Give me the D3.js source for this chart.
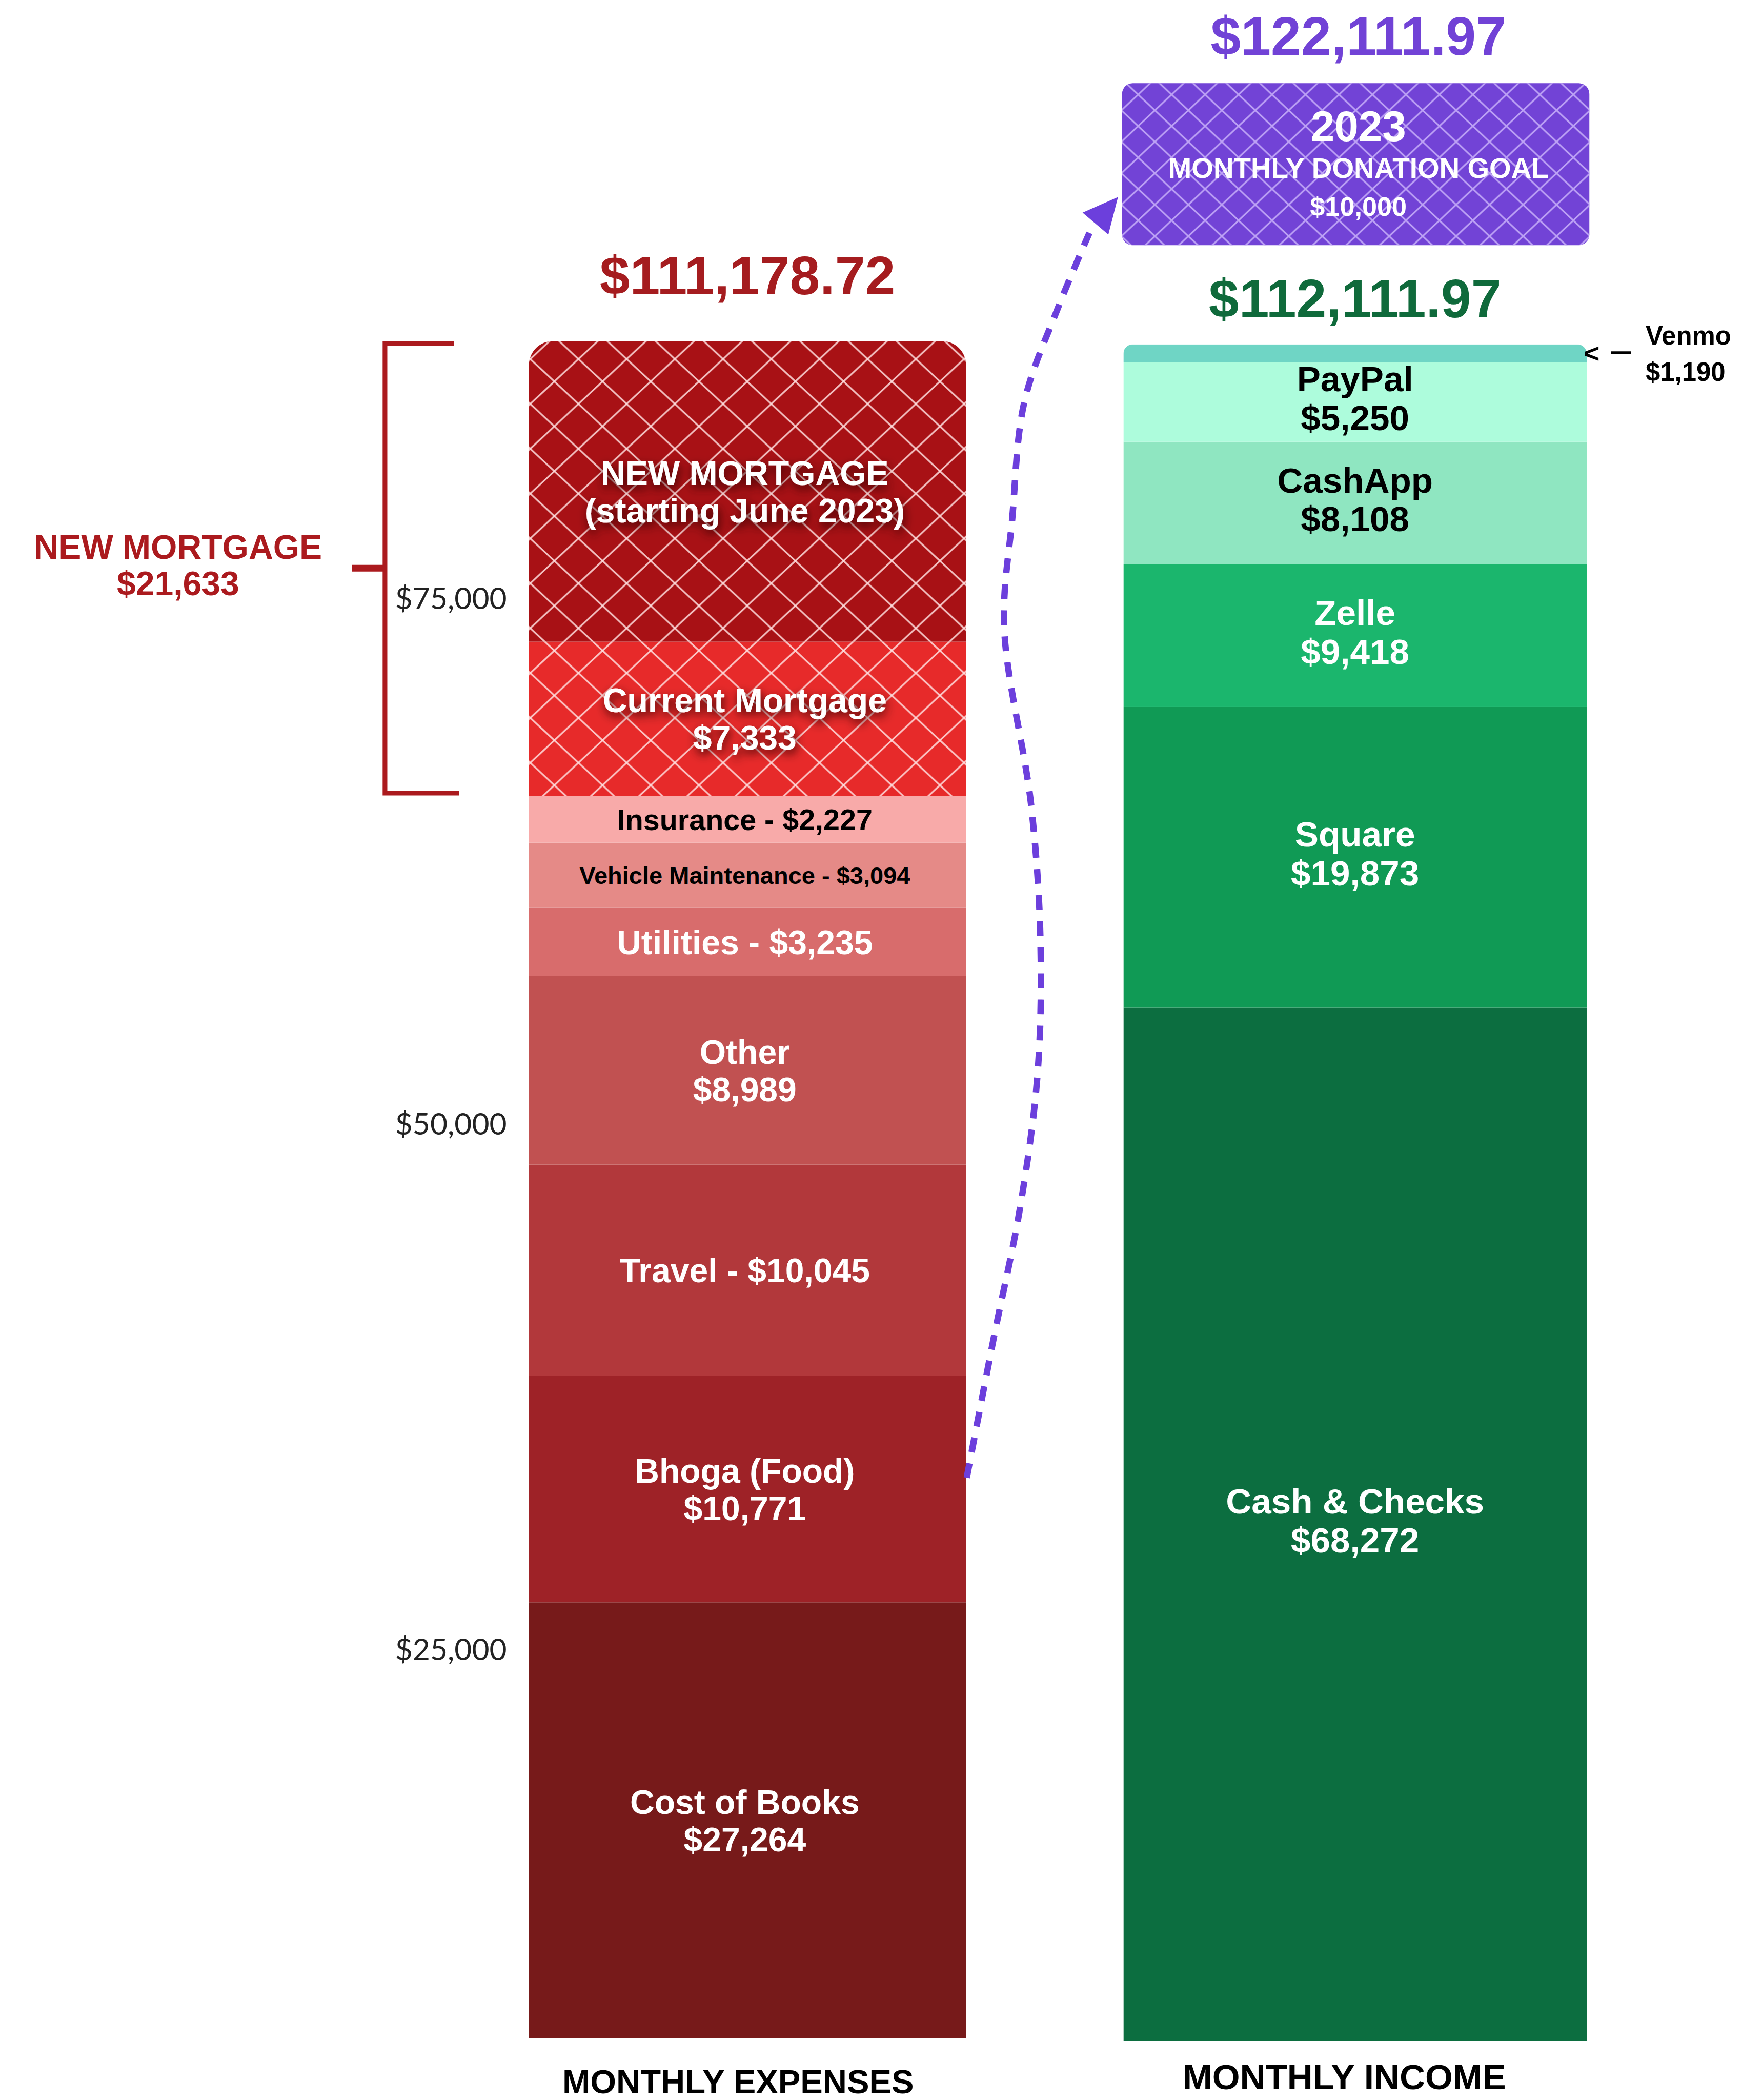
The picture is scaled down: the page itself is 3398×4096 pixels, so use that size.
<!DOCTYPE html>
<html>
<head>
<meta charset="utf-8">
<script src="https://cdn.jsdelivr.net/npm/d3@7"></script>
<style>
  html, body { margin: 0; padding: 0; background: #fff; }
  svg { display: block; }
</style>
</head>
<body>
<svg id="chart"></svg>
<script>
// ---- data ----
// expenses, bottom of the bar to the top
const expenseNames = ["Cost of Books", "Bhoga (Food)", "Travel", "Other", "Utilities",
  "Vehicle Maintenance", "Insurance", "Current Mortgage", "NEW MORTGAGE"];
const expenseValues = [27264, 10771, 10045, 8989, 3235, 3094, 2227, 7333, 14300];
const expenseLabels = [
  ["Cost of Books", "$27,264"], ["Bhoga (Food)", "$10,771"], ["Travel - $10,045"],
  ["Other", "$8,989"], ["Utilities - $3,235"], ["Vehicle Maintenance - $3,094"],
  ["Insurance - $2,227"], ["Current Mortgage", "$7,333"], ["NEW MORTGAGE", "(starting June 2023)"]
];
const hatchedExpenses = ["Current Mortgage", "NEW MORTGAGE"];

// income, bottom of the bar to the top
const incomeNames = ["Cash & Checks", "Square", "Zelle", "CashApp", "PayPal", "Venmo"];
const incomeValues = [68272, 19873, 9418, 8108, 5250, 1190];

const expenseTicks = [25000, 50000, 75000];
const expenseTotalText = "$111,178.72";
const incomeTotalText = "$112,111.97";
const goalTotalText = "$122,111.97";
const goalLines = ["2023", "MONTHLY DONATION GOAL", "$10,000"];
const newMortgageText = ["NEW MORTGAGE", "$21,633"];

// ---- styles ----
const expenseColors = ["#771a1a", "#9e2227", "#b2383b", "#c15151", "#d86c6c",
  "#e58a87", "#f8aaa9", "#e72a2a", "#a81115"];
const expenseText = ["#fff", "#fff", "#fff", "#fff", "#fff", "#000", "#000", "#fff", "#fff"];
const expenseFont = [25.3, 25.3, 25.3, 25.3, 25.3, 18, 22, 25.3, 25.3];
const incomeColors = ["#0c6e40", "#109a55", "#1bb66d", "#8fe6c1", "#adfcdc", "#6fd5c5"];
const incomeText = ["#fff", "#fff", "#fff", "#000", "#000", "#000"];

const FONT = "'Liberation Sans', Arial, Helvetica, sans-serif";
const W = 1301, H = 1568;
const fmt = d3.format(",");

const svg = d3.select("#chart")
  .attr("width", 3398).attr("height", 4096)
  .attr("viewBox", `0 0 ${W} ${H}`);
const defs = svg.append("defs");

// bar layout
const exp = { x0: 395, x1: 721.5, bottom: 1522, r: 18 };
const inc = { x0: 839, x1: 1185, r: 7 };
const box = { x: 838, y: 62, w: 349, h: 121, r: 8 };

const expTotal = d3.sum(expenseValues);
const incTotal = d3.sum(incomeValues);

// expense scale set by its tick labels (the bar is cropped at the bottom)
const yExp = d3.scaleLinear().domain([25000, 75000]).range([1232, 447]);
const yInc = d3.scaleLinear().domain([0, incTotal]).range([1524, 257]);

function stackOf(names, values) {
  const row = {};
  names.forEach((n, i) => row[n] = values[i]);
  return d3.stack().keys(names)([row]).map((s, i) => ({ key: s.key, i: i, y0: s[0][0], y1: s[0][1] }));
}
const expStack = stackOf(expenseNames, expenseValues);
const incStack = stackOf(incomeNames, incomeValues);

function topRounded(x, y, w, h, r) {
  return `M${x},${y + h}V${y + r}A${r},${r} 0 0 1 ${x + r},${y}H${x + w - r}` +
    `A${r},${r} 0 0 1 ${x + w},${y + r}V${y + h}Z`;
}

// hatch patterns (diamond lattice)
function hatch(id, w, h, color, sw, op) {
  const p = defs.append("pattern").attr("id", id)
    .attr("patternUnits", "userSpaceOnUse").attr("width", w).attr("height", h);
  const segs = [[-w, -h, 2 * w, 2 * h], [2 * w, -h, -w, 2 * h], [-w, h, w, -h],
    [0, 2 * h, 2 * w, 0], [0, -h, 2 * w, h], [-w, 0, w, 2 * h]];
  p.selectAll("line").data(segs).join("line")
    .attr("x1", d => d[0]).attr("y1", d => d[1]).attr("x2", d => d[2]).attr("y2", d => d[3])
    .attr("stroke", color).attr("stroke-width", sw).attr("stroke-opacity", op);
}
hatch("hatchRed", 36, 33.5, "#ffe0e0", 1.3, 0.85);
hatch("hatchPurple", 25, 23.5, "#bda2f5", 1.2, 1);

defs.append("filter").attr("id", "shadow")
  .attr("x", "-20%").attr("y", "-60%").attr("width", "140%").attr("height", "220%")
  .append("feDropShadow").attr("dx", 1).attr("dy", 3).attr("stdDeviation", 3.5)
  .attr("flood-color", "#300000").attr("flood-opacity", 0.9);

defs.append("clipPath").attr("id", "expClip").append("path")
  .attr("d", topRounded(exp.x0, yExp(expTotal), exp.x1 - exp.x0, exp.bottom - yExp(expTotal), exp.r));
defs.append("clipPath").attr("id", "incClip").append("path")
  .attr("d", topRounded(inc.x0, yInc(incTotal), inc.x1 - inc.x0, yInc(0) - yInc(incTotal), inc.r));

// text helper: centred lines around cy
function lines(g, x, cy, arr, size, color, lh, extra) {
  const t = g.append("text").attr("x", x).attr("text-anchor", "middle")
    .attr("font-family", FONT).attr("font-weight", "bold")
    .attr("font-size", size).attr("fill", color);
  if (extra) extra(t);
  arr.forEach((s, k) => {
    t.append("tspan").attr("x", x)
      .attr("y", cy + (k - (arr.length - 1) / 2) * lh + 0.36 * size)
      .text(s);
  });
  return t;
}

// ---- expense bar ----
const expG = svg.append("g").attr("clip-path", "url(#expClip)");
expG.selectAll("rect.seg").data(expStack).join("rect").attr("class", "seg")
  .attr("x", exp.x0).attr("width", exp.x1 - exp.x0)
  .attr("y", d => yExp(d.y1)).attr("height", d => yExp(d.y0) - yExp(d.y1))
  .attr("fill", d => expenseColors[d.i]);
expG.selectAll("rect.hatch").data(expStack.filter(d => hatchedExpenses.includes(d.key)))
  .join("rect").attr("class", "hatch")
  .attr("x", exp.x0).attr("width", exp.x1 - exp.x0)
  .attr("y", d => yExp(d.y1)).attr("height", d => yExp(d.y0) - yExp(d.y1))
  .attr("fill", "url(#hatchRed)");

const expCx = (exp.x0 + exp.x1) / 2;
expStack.forEach(d => {
  const top = Math.max(yExp(d.y1), yExp(expTotal));
  const bot = Math.min(yExp(d.y0), exp.bottom);
  const shadow = hatchedExpenses.includes(d.key);
  lines(svg, expCx - 2, (top + bot) / 2, expenseLabels[d.i], expenseFont[d.i], expenseText[d.i], 28,
    shadow ? t => t.attr("filter", "url(#shadow)") : null);
});

// ---- income bar ----
const incG = svg.append("g").attr("clip-path", "url(#incClip)");
incG.selectAll("rect").data(incStack).join("rect")
  .attr("x", inc.x0).attr("width", inc.x1 - inc.x0)
  .attr("y", d => yInc(d.y1)).attr("height", d => yInc(d.y0) - yInc(d.y1))
  .attr("fill", d => incomeColors[d.i]);

const incCx = (inc.x0 + inc.x1) / 2;
incStack.filter(d => d.key !== "Venmo").forEach(d => {
  lines(svg, incCx, (yInc(d.y0) + yInc(d.y1)) / 2 - 3, [d.key, "$" + fmt(incomeValues[d.i])],
    26.5, incomeText[d.i], 29);
});

// Venmo callout
const venmo = incStack.find(d => d.key === "Venmo");
const vy = (yInc(venmo.y0) + yInc(venmo.y1)) / 2;
svg.append("text").attr("x", inc.x1 - 2).attr("y", vy + 7)
  .attr("font-family", FONT).attr("font-weight", "bold").attr("font-size", 20).text("<");
svg.append("line").attr("x1", inc.x1 + 18).attr("x2", inc.x1 + 33)
  .attr("y1", vy - 0.5).attr("y2", vy - 0.5).attr("stroke", "#000").attr("stroke-width", 2);
const vt = svg.append("text").attr("font-family", FONT).attr("font-weight", "bold")
  .attr("font-size", 19.5).attr("fill", "#000");
vt.append("tspan").attr("x", inc.x1 + 44).attr("y", vy - 6.5).text(venmo.key);
vt.append("tspan").attr("x", inc.x1 + 44).attr("y", vy + 20.5).text("$" + fmt(incomeValues[venmo.i]));

// ---- y axis (expense side) ----
const axis = svg.append("g").attr("transform", "translate(381.5,0)")
  .call(d3.axisLeft(yExp).tickValues(expenseTicks)
    .tickFormat(d => "$" + fmt(d)).tickSize(0).tickPadding(3));
axis.select(".domain").remove();
axis.selectAll("text").attr("font-family", "Lato, 'Open Sans', sans-serif")
  .attr("font-size", 22.5).attr("fill", "#222");

// ---- new mortgage bracket ----
const mortgageTotal = d3.sum(expStack.filter(d => hatchedExpenses.includes(d.key)), d => d.y1 - d.y0);
const bTop = yExp(expTotal) + 1.7;
const bBot = yExp(expTotal - mortgageTotal) - 2;
const bMid = (bTop + bBot) / 2;
const bx = 287.5, red = "#ab1a1e";
svg.append("path")
  .attr("d", `M339,${bTop}H${bx}V${bBot}H343`)
  .attr("fill", "none").attr("stroke", red).attr("stroke-width", 3.5);
svg.append("line").attr("x1", 263).attr("x2", bx).attr("y1", bMid).attr("y2", bMid)
  .attr("stroke", red).attr("stroke-width", 5);
lines(svg, 133, bMid - 2.6, newMortgageText, 25.3, red, 27);

// ---- totals ----
function title(x, y, s, color) {
  svg.append("text").attr("x", x).attr("y", y).attr("text-anchor", "middle")
    .attr("font-family", FONT).attr("font-weight", "bold").attr("font-size", 40.5)
    .attr("fill", color).text(s);
}
title(expCx, yExp(expTotal) - 35, expenseTotalText, "#a51c1f");
title(incCx, yInc(incTotal) - 20, incomeTotalText, "#0f6a3b");
title(box.x + box.w / 2 + 2, 41, goalTotalText, "#7142d6");

// ---- donation goal box ----
svg.append("rect").attr("x", box.x).attr("y", box.y).attr("width", box.w).attr("height", box.h)
  .attr("rx", box.r).attr("fill", "#7243d6");
svg.append("rect").attr("x", box.x).attr("y", box.y).attr("width", box.w).attr("height", box.h)
  .attr("rx", box.r).attr("fill", "url(#hatchPurple)");
const bcx = box.x + box.w / 2 + 2;
const gt = svg.append("text").attr("text-anchor", "middle").attr("font-family", FONT)
  .attr("font-weight", "bold").attr("fill", "#fff");
gt.append("tspan").attr("x", bcx).attr("y", 105).attr("font-size", 32).text(goalLines[0]);
gt.append("tspan").attr("x", bcx).attr("y", 132.7).attr("font-size", 21).text(goalLines[1]);
gt.append("tspan").attr("x", bcx).attr("y", 161).attr("font-size", 20).text(goalLines[2]);

// ---- dashed arrow from expenses to the goal ----
const bhoga = expStack.find(d => d.key === "Bhoga (Food)");
const S = [exp.x1 + 0.5, yExp(bhoga.y0 + 0.55 * (bhoga.y1 - bhoga.y0))];
const T = [box.x - 3, box.y + box.h - 36];
const fx = [0, 0.172, 0.345, 0.457, 0.474, 0.414, 0.241, 0.293, 0.371, 0.586, 0.79];
const fy = [0, 0.108, 0.212, 0.317, 0.422, 0.526, 0.664, 0.749, 0.840, 0.913, 0.972];
const gap = box.x - S[0];
const pts = fx.map((f, i) => [S[0] + f * gap, S[1] + fy[i] * (T[1] - S[1])]);
const purple = "#6c3fdc";
svg.append("path").attr("d", d3.line().curve(d3.curveCatmullRom)(pts))
  .attr("fill", "none").attr("stroke", purple).attr("stroke-width", 4.8)
  .attr("stroke-dasharray", "11,8.5");
const u = [17 / 26.2, -20 / 26.2], n = [-u[1], u[0]];
const B = [T[0] - 26 * u[0], T[1] - 26 * u[1]];
svg.append("path")
  .attr("d", `M${T[0]},${T[1]}L${B[0] + 12.6 * n[0]},${B[1] + 12.6 * n[1]}L${B[0] - 12.6 * n[0]},${B[1] - 12.6 * n[1]}Z`)
  .attr("fill", purple);

// ---- bar captions ----
function caption(x, y, s, size) {
  svg.append("text").attr("x", x).attr("y", y).attr("text-anchor", "middle")
    .attr("font-family", FONT).attr("font-weight", "bold").attr("font-size", size)
    .attr("fill", "#000").text(s);
}
caption(expCx - 7, 1563, "MONTHLY EXPENSES", 25);
caption(incCx - 8, 1560, "MONTHLY INCOME", 26.5);
</script>
</body>
</html>
